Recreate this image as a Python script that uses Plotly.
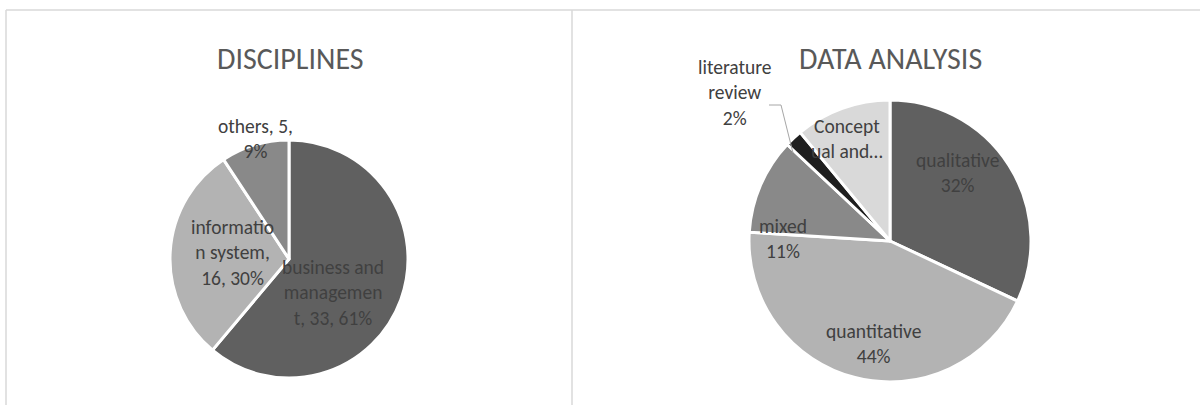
import plotly.graph_objects as go

W, H = 1200, 405

# ---- data ----
disc_labels = ["business and management", "information system", "others"]
disc_values = [33, 16, 5]
disc_text = ["business and<br>managemen<br>t, 33, 61%", "informatio<br>n system,<br>16, 30%", "others, 5,<br>9%"]
disc_colors = ["#606060", "#b3b3b3", "#898989"]

da_labels = ["qualitative", "quantitative", "mixed", "literature review", "Conceptual and literature"]
da_values = [32, 44, 11, 2, 11]
da_text = ["qualitative<br>32%", "quantitative<br>44%", "mixed<br>11%", "literature<br>review<br>2%", "Concept<br>ual and…"]
da_colors = ["#606060", "#b3b3b3", "#898989", "#1f1f1f", "#d9d9d9"]

FONT = "Carlito, Calibri, Lato, 'Open Sans', sans-serif"
LABEL_SIZE = 19.5

# pie geometry (pixels)
L_CX, L_CY, L_R = 289, 259, 119
R_CX, R_CY, R_R = 890, 241, 141


def dom(cx, cy, r):
    return dict(x=[(cx - r) / W, (cx + r) / W], y=[1 - (cy + r) / H, 1 - (cy - r) / H])


fig = go.Figure()
fig.add_trace(go.Pie(labels=disc_labels, values=disc_values, sort=False, direction="clockwise",
                     rotation=0, marker=dict(colors=disc_colors, line=dict(color="white", width=3)),
                     textinfo="none", hoverinfo="label+value+percent", showlegend=False,
                     domain=dom(L_CX, L_CY, L_R)))
fig.add_trace(go.Pie(labels=da_labels, values=da_values, sort=False, direction="clockwise",
                     rotation=0, marker=dict(colors=da_colors, line=dict(color="white", width=3)),
                     textinfo="none", hoverinfo="label+value+percent", showlegend=False,
                     domain=dom(R_CX, R_CY, R_R)))

# label block centres (pixels)
disc_pos = [(333, 292), (233, 252), (255, 138)]
da_pos = [(957, 172), (873, 343), (783, 238), (735, 92), (847, 138)]
TXT = "#404040"

ann = []
for t, (x, y) in zip(disc_text + da_text, disc_pos + da_pos):
    ann.append(dict(text=t, x=x / W, y=1 - y / H, xref="paper", yref="paper", showarrow=False,
                    font=dict(family=FONT, size=LABEL_SIZE, color=TXT),
                    xanchor="center", yanchor="middle"))

ann.append(dict(text="DISCIPLINES", x=290 / W, y=1 - 58 / H, xref="paper", yref="paper", showarrow=False,
                font=dict(family=FONT, size=30, color="#595959", weight=300),
                xanchor="center", yanchor="middle"))
ann.append(dict(text="DATA ANALYSIS", x=890 / W, y=1 - 58 / H, xref="paper", yref="paper", showarrow=False,
                font=dict(family=FONT, size=30, color="#595959", weight=300),
                xanchor="center", yanchor="middle"))

shapes = [
    # chart borders
    dict(type="line", xref="paper", yref="paper", x0=6 / W, x1=1, y0=1 - 10 / H, y1=1 - 10 / H,
         line=dict(color="#d9d9d9", width=1.5)),
    dict(type="line", xref="paper", yref="paper", x0=6 / W, x1=6 / W, y0=0, y1=1 - 10 / H,
         line=dict(color="#d9d9d9", width=1.5)),
    dict(type="line", xref="paper", yref="paper", x0=572 / W, x1=572 / W, y0=0, y1=1 - 10 / H,
         line=dict(color="#d9d9d9", width=1.5)),
    # leader line for literature review
    dict(type="path", xref="paper", yref="paper",
         path=f"M {769/W},{1-105/H} L {781/W},{1-105/H} L {793/W},{1-153/H}",
         line=dict(color="#a6a6a6", width=1)),
]

fig.update_layout(width=W, height=H, margin=dict(l=0, r=0, t=0, b=0),
                  paper_bgcolor="white", plot_bgcolor="white",
                  annotations=ann, shapes=shapes)

fig.write_html("out.html")
